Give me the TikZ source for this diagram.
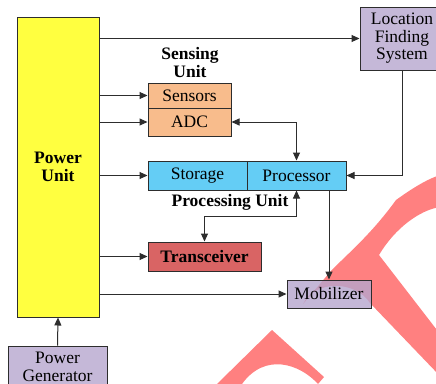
\documentclass[tikz,border=0pt]{standalone}
\usepackage{fontspec}
\setmainfont{Liberation Serif}
\usetikzlibrary{arrows.meta}
\definecolor{pyellow}{RGB}{255,255,64}
\definecolor{sorange}{RGB}{248,188,140}
\definecolor{pblue}{RGB}{100,205,245}
\definecolor{tred}{RGB}{217,100,100}
\definecolor{lav}{RGB}{197,184,216}
\definecolor{lavbase}{RGB}{182,166,206}
\definecolor{wmark}{RGB}{255,128,128}
\definecolor{edge}{RGB}{45,45,45}
\tikzset{
  box/.style={draw=edge, line width=1pt, inner sep=0pt, anchor=center, align=center,
    font=\fontsize{17.5}{17.5}\selectfont},
  lbl/.style={inner sep=0pt, align=center, font=\fontsize{17.5}{18}\selectfont\bfseries},
  arr/.style={draw=edge, line width=1pt, -{Triangle[length=8pt,width=7pt]}},
  biarr/.style={draw=edge, line width=1pt, {Triangle[length=8pt,width=7pt]}-{Triangle[length=8pt,width=7pt]}}
}
\begin{document}
\begin{tikzpicture}[x=1pt,y=-1pt]
\useasboundingbox (0,0) rectangle (436,383);
\clip (0,0) rectangle (436,383);
\fill[white] (0,0) rectangle (436,383);
% watermark
\fill[wmark] (303,304) -- (330,272) .. controls (345,256) and (370,236) .. (396,200)
  .. controls (410,190) and (425,180) .. (440,175) -- (440,207)
  .. controls (420,210) and (395,228) .. (379,255) -- (440,334) -- (440,376) -- (370,303)
  .. controls (355,280) and (315,280) .. (303,304) -- cycle;
\fill[wmark] (217,384) -- (272,330) -- (324,377) -- (318,384)
  .. controls (300,364) and (265,352) .. (242,384) -- cycle;
% nodes
\node[box, fill=pyellow, minimum width=82pt, minimum height=300pt, font=\fontsize{17.5}{18}\selectfont\bfseries] (PU) at (58,167) {Power\\Unit};
\node[box, fill=lav, minimum width=99pt, minimum height=42pt] (PG) at (57.5,367) {Power\\Generator};
\node[box, fill=lav, minimum width=84pt, minimum height=63pt] (LFS) at (402,38.5) {Location\\Finding\\System};
\node[lbl] (SL) at (190,63) {Sensing\\Unit};
\node[box, fill=sorange, minimum width=83pt, minimum height=25pt] (Sensors) at (189.5,95.5) {Sensors};
\node[box, fill=sorange, minimum width=83pt, minimum height=28pt] (ADC) at (189.5,122) {ADC};
\node[box, fill=pblue, minimum width=99pt, minimum height=29pt] (Storage) at (197.5,175.5) {Storage};
\node[box, fill=pblue, minimum width=99pt, minimum height=29pt] (Processor) at (296.5,175.5) {Processor};
\node[lbl] (PL) at (230,202) {Processing Unit};
\node[box, fill=tred, minimum width=113pt, minimum height=29pt, font=\fontsize{17.5}{18}\selectfont\bfseries] (Transceiver) at (204.5,256.5) {Transceiver};
\node[box, fill=lavbase, fill opacity=0.8, text opacity=1, draw opacity=1, minimum width=84pt, minimum height=28pt] (Mobilizer) at (329,294) {Mobilizer};
% connectors
\draw[arr] (PU.east |- LFS) -- (LFS.west);
\draw[arr] (PU.east |- Sensors) -- (Sensors.west);
\draw[arr] (PU.east |- ADC) -- (ADC.west);
\draw[arr] (PU.east |- Storage) -- (Storage.west);
\draw[arr] (PU.east |- Transceiver) -- (Transceiver.west);
\draw[arr] (PU.east |- Mobilizer) -- (Mobilizer.west);
\draw[arr] (PG.north) -- (PU.south);
\draw[biarr] (ADC.east) -| (Processor.north);
\draw[arr] (LFS.south) |- (Processor.east);
\draw[biarr] (Processor.south) -- ++(0,26) -| (Transceiver.north);
\draw[arr] (Processor.south -| Mobilizer.north) -- (Mobilizer.north);
\end{tikzpicture}
\end{document}
